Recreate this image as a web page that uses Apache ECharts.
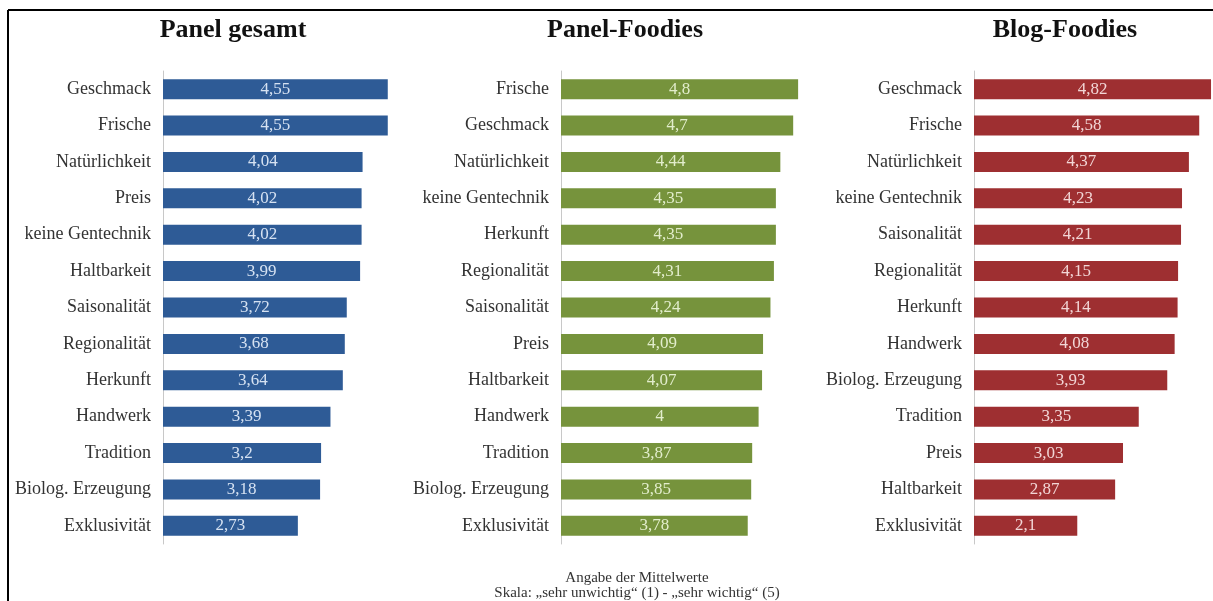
<!DOCTYPE html>
<html><head><meta charset="utf-8">
<script src="https://cdn.jsdelivr.net/npm/echarts@6/dist/echarts.min.js"></script>
<style>html,body{margin:0;padding:0;background:#fff}#c{width:1213px;height:601px}</style>
</head><body><div id="c"></div>
<script>
var titles = ['Panel gesamt', 'Panel-Foodies', 'Blog-Foodies'];
var cats1 = ['Geschmack','Frische','Natürlichkeit','Preis','keine Gentechnik','Haltbarkeit','Saisonalität','Regionalität','Herkunft','Handwerk','Tradition','Biolog. Erzeugung','Exklusivität'];
var vals1 = [4.55,4.55,4.04,4.02,4.02,3.99,3.72,3.68,3.64,3.39,3.2,3.18,2.73];
var cats2 = ['Frische','Geschmack','Natürlichkeit','keine Gentechnik','Herkunft','Regionalität','Saisonalität','Preis','Haltbarkeit','Handwerk','Tradition','Biolog. Erzeugung','Exklusivität'];
var vals2 = [4.8,4.7,4.44,4.35,4.35,4.31,4.24,4.09,4.07,4,3.87,3.85,3.78];
var cats3 = ['Geschmack','Frische','Natürlichkeit','keine Gentechnik','Saisonalität','Regionalität','Herkunft','Handwerk','Biolog. Erzeugung','Tradition','Preis','Haltbarkeit','Exklusivität'];
var vals3 = [4.82,4.58,4.37,4.23,4.21,4.15,4.14,4.08,3.93,3.35,3.03,2.87,2.1];
var footer1 = 'Angabe der Mittelwerte';
var footer2 = 'Skala: „sehr unwichtig“ (1) - „sehr wichtig“ (5)';

var cats = [cats1, cats2, cats3];
var vals = [vals1, vals2, vals3];
var colors = ['#2E5B96', '#76933C', '#9E2F31'];
var labelColors = ['#d6e2f2', '#e2edcc', '#f2d6d6'];
var lefts = [163, 561, 974];
var widths = [247, 247, 239];
var maxes = [5, 5, 4.86];
var titleX = [228, 620, 1060];
var serif = '"Liberation Serif", "DejaVu Serif", serif';

var grids = [], xAxes = [], yAxes = [], series = [], titleArr = [];
for (var i = 0; i < 3; i++) {
  grids.push({left: lefts[i], top: 71, width: widths[i], height: 473, containLabel: false});
  xAxes.push({type: 'value', gridIndex: i, min: 0, max: maxes[i], show: false});
  yAxes.push({
    type: 'category', gridIndex: i, data: cats[i], inverse: true,
    axisLine: {show: true, lineStyle: {color: '#c8c8c8', width: 1}},
    axisTick: {show: false},
    axisLabel: {fontFamily: serif, fontSize: 18, color: '#333', margin: 12}
  });
  series.push({
    type: 'bar', xAxisIndex: i, yAxisIndex: i, data: vals[i], barWidth: 20,
    itemStyle: {color: colors[i]},
    label: {
      show: true, position: 'inside', fontFamily: serif, fontSize: 17,
      color: labelColors[i],
      formatter: function (p) { return String(p.value).replace('.', ','); }
    },
    silent: true, animation: false
  });
  titleArr.push({
    text: titles[i], left: titleX[i], top: 12, textAlign: 'center',
    textStyle: {fontFamily: serif, fontSize: 26, fontWeight: 'bold', color: '#111'}
  });
}

var chart = echarts.init(document.getElementById('c'));
chart.setOption({
  animation: false,
  title: titleArr,
  grid: grids,
  xAxis: xAxes,
  yAxis: yAxes,
  series: series,
  graphic: [
    {type: 'line', shape: {x1: 8, y1: 10, x2: 1213, y2: 10}, style: {stroke: '#000', lineWidth: 2}},
    {type: 'line', shape: {x1: 8, y1: 10, x2: 8, y2: 601}, style: {stroke: '#000', lineWidth: 2}},
    {type: 'text', x: 637, y: 578, style: {text: footer1, font: '15px ' + serif, fill: '#333', align: 'center', verticalAlign: 'middle'}},
    {type: 'text', x: 637, y: 593, style: {text: footer2, font: '15px ' + serif, fill: '#333', align: 'center', verticalAlign: 'middle'}}
  ]
});
</script></body></html>
